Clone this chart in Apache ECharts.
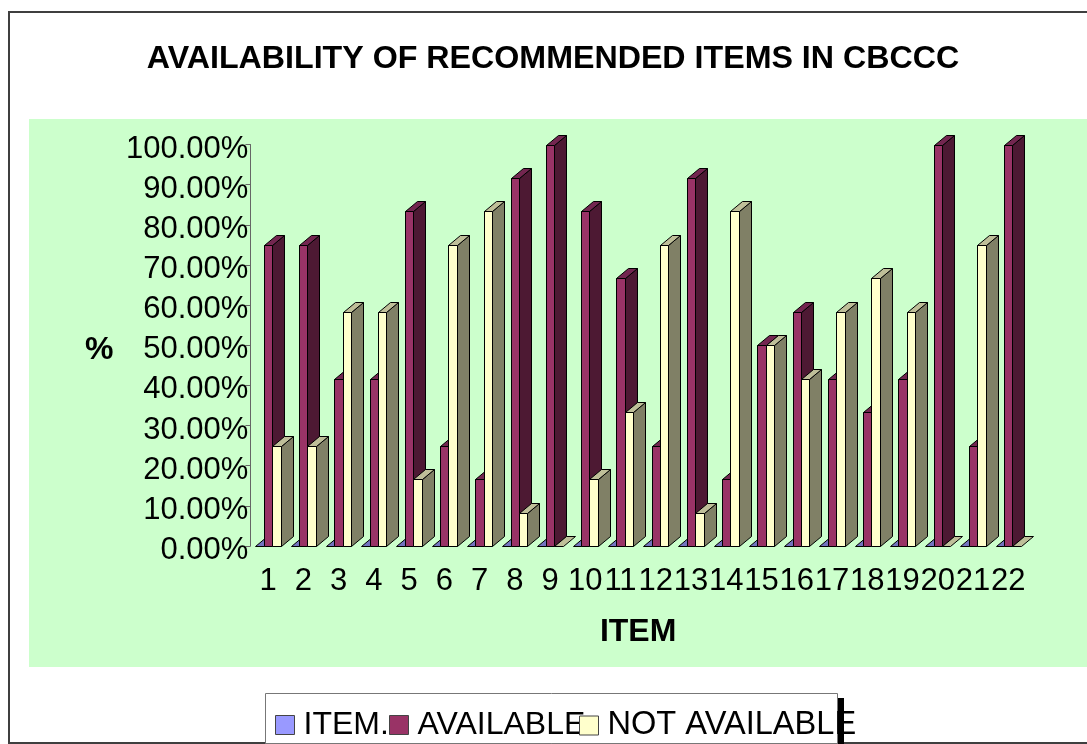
<!DOCTYPE html>
<html>
<head>
<meta charset="utf-8">
<style>html,body{margin:0;padding:0;background:#fff}#c{width:1087px;height:744px}</style>
<script src="https://cdn.jsdelivr.net/npm/echarts@6/dist/echarts.min.js"></script>
</head>
<body>
<div id="c"></div>
<script>
var categories = ['1','2','3','4','5','6','7','8','9','10','11','12','13','14','15','16','17','18','19','20','21','22'];
var itemValues = [0,0,0,0,0,0,0,0,0,0,0,0,0,0,0,0,0,0,0,0,0,0];
var availableValues = [75,75,41.67,41.67,83.33,25,16.67,91.67,100,83.33,66.67,25,91.67,16.67,50,58.33,41.67,33.33,41.67,100,25,100];
var notAvailableValues = [25,25,58.33,58.33,16.67,75,83.33,8.33,0,16.67,33.33,75,8.33,83.33,50,41.67,58.33,66.67,58.33,0,75,0];
var seriesNames = ['ITEM.','AVAILABLE','NOT AVAILABLE'];
var titleText = 'AVAILABILITY OF RECOMMENDED ITEMS IN CBCCC';

var FONT = '"Liberation Sans", Arial, sans-serif';
var faces = [
  {front:'#9999FF', side:'#4D4D80', top:'#7373BF'},
  {front:'#993366', side:'#4D1933', top:'#732650'},
  {front:'#FFFFCC', side:'#808066', top:'#BFBF99'}
];
function renderBar(slot){
  return function(params, api){
    var base = api.coord([api.value(0), 0]);
    var top = api.coord([api.value(0), api.value(1)]);
    var bw = api.size([1,0])[0] * 0.238;
    var x0 = Math.round(base[0] + (slot - 1.5) * bw) + 0.5;
    var x1 = Math.round(base[0] + (slot - 0.5) * bw) + 0.5;
    var yb = Math.round(base[1]) + 0.5, yt = Math.round(top[1]) + 0.5;
    var dx = 12, dy = 10, f = faces[slot];
    var edge = {stroke:'#000', lineWidth:1};
    var kids = [];
    if (yb - yt > 0.5) {
      kids.push({type:'polygon', shape:{points:[[x1,yt],[x1+dx,yt-dy],[x1+dx,yb-dy],[x1,yb]]},
        style:Object.assign({fill:f.side}, edge)});
      kids.push({type:'rect', shape:{x:x0,y:yt,width:x1-x0,height:yb-yt},
        style:Object.assign({fill:f.front}, edge)});
    }
    kids.push({type:'polygon', shape:{points:[[x0,yt],[x0+dx,yt-dy],[x1+dx,yt-dy],[x1,yt]]},
      style:Object.assign({fill:f.top}, edge)});
    return {type:'group', children:kids};
  };
}
function makeSeries(slot, vals){
  return {
    name: seriesNames[slot], type:'custom', renderItem: renderBar(slot),
    encode:{x:0,y:1}, clip:false,
    itemStyle:{color:faces[slot].front},
    data: vals.map(function(v,i){return [i,v];})
  };
}
function makeLegend(name, left, size){
  return {left:left, top:709, itemWidth:19, itemHeight:19, icon:'rect', padding:0,
    data:[name], selectedMode:false,
    itemStyle:{borderColor:'#444',borderWidth:1},
    textStyle:{fontFamily:FONT,fontSize:size,color:'#000',padding:[0,0,2,4]}};
}
var chart = echarts.init(document.getElementById('c'), null, {renderer:'canvas'});
chart.setOption({
  animation:false,
  backgroundColor:'#fff',
  title:{text:titleText, left:548, top:38, textAlign:'center',
    textStyle:{fontFamily:FONT,fontSize:32.2,fontWeight:'bold',color:'#000'}},
  grid:{left:250.4, top:144.5, width:775.5, height:401.5},
  legend:[makeLegend(seriesNames[0],275,32),makeLegend(seriesNames[1],389,32),makeLegend(seriesNames[2],579,32.6)],
  xAxis:{type:'category', data:categories, boundaryGap:true,
    axisLine:{show:false}, axisTick:{show:false}, splitLine:{show:false},
    axisLabel:{interval:0, margin:20, fontFamily:FONT, fontSize:31, color:'#000', hideOverlap:false},
    name:'ITEM', nameLocation:'middle', nameGap:70,
    nameTextStyle:{fontFamily:FONT,fontSize:32,fontWeight:'bold',color:'#000'}},
  yAxis:{type:'value', min:0, max:100, interval:10,
    axisLine:{show:true,lineStyle:{color:'#666',width:1}},
    axisTick:{show:true,length:5,lineStyle:{color:'#666'}},
    splitLine:{show:false},
    axisLabel:{margin:2, fontFamily:FONT, fontSize:31, color:'#000', verticalAlign:'top', lineHeight:9,
      formatter:function(v){return v.toFixed(2)+'%';}},
    name:'%', nameLocation:'middle', nameRotate:0, nameGap:137,
    nameTextStyle:{fontFamily:FONT,fontSize:32,fontWeight:'bold',color:'#000',verticalAlign:'top',lineHeight:9}},
  graphic:[
    {type:'rect', z:-10, shape:{x:9,y:12,width:1090,height:731}, style:{fill:'#fff',stroke:'#3f3f3f',lineWidth:2}},
    {type:'rect', z:-9, shape:{x:29,y:119,width:1058,height:548}, style:{fill:'#CCFFCC'}},
    {type:'rect', z:-8, shape:{x:265.5,y:693.5,width:572,height:50}, style:{fill:'#fff',stroke:'#777',lineWidth:1}},
    {type:'rect', z:100, zlevel:1, shape:{x:838,y:698,width:6,height:46}, style:{fill:'#000'}}
  ],
  series:[makeSeries(0,itemValues),makeSeries(1,availableValues),makeSeries(2,notAvailableValues)]
});
</script>
</body>
</html>
